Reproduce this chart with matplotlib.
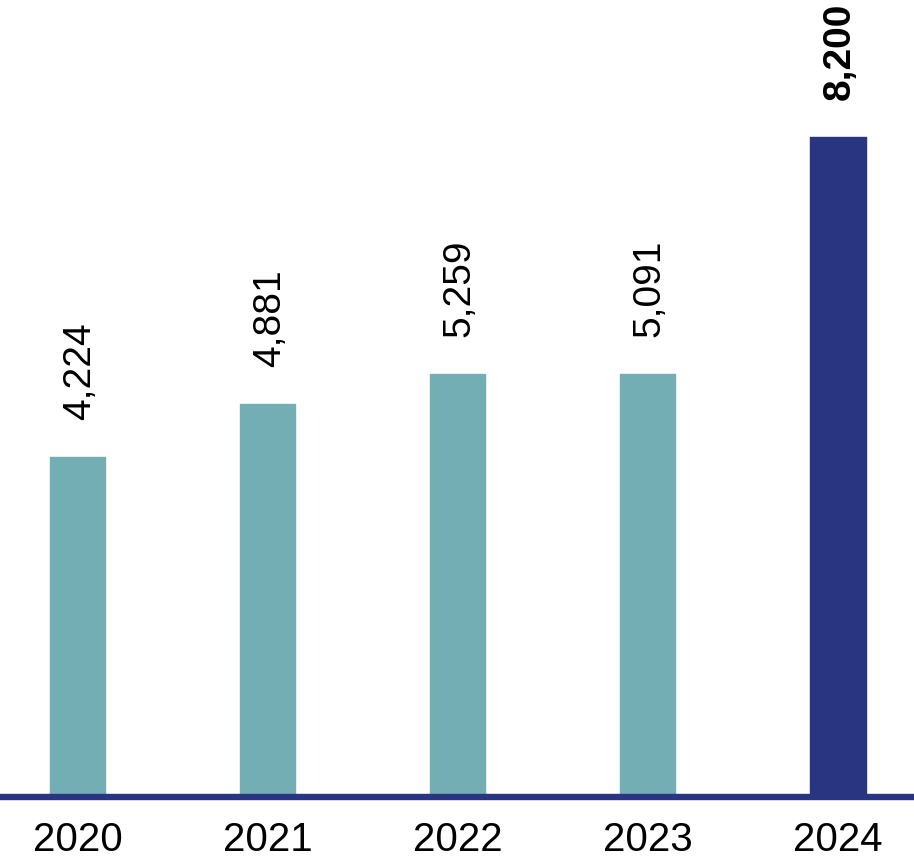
import matplotlib
matplotlib.use("Agg")
import matplotlib.pyplot as plt

years = ["2020", "2021", "2022", "2023", "2024"]
# bar heights as drawn in the reference (2023 bar is drawn level with 2022)
bar_values = [4224, 4881, 5259, 5259, 8200]
value_labels = ["4,224", "4,881", "5,259", "5,091", "8,200"]
colors = ["#74aeb5", "#74aeb5", "#74aeb5", "#74aeb5", "#2a3582"]
label_weights = ["normal", "normal", "normal", "normal", "bold"]

plt.rcParams["font.family"] = ["Liberation Sans", "DejaVu Sans"]

fig = plt.figure(figsize=(9.14, 8.6), dpi=100)
ax = fig.add_axes([0, 63 / 860, 1, 797 / 860])

x = list(range(len(years)))
bars = ax.bar(x, bar_values, width=0.29, color=colors, edgecolor=colors,
              linewidth=1.0, zorder=2)
for b in bars:
    b.set_joinstyle("round")

for xi, v, lab, w in zip(x, bar_values, value_labels, label_weights):
    ax.annotate(lab, xy=(xi, v), xytext=(1.5, 26.5), textcoords="offset points",
                rotation=90, ha="center", va="bottom", fontsize=28,
                fontweight=w, color="black")

ax.axhline(0, color="#2a3582", linewidth=4.6, zorder=3, clip_on=False)

ax.set_xlim(-0.408, 4.40)
ax.set_ylim(0, 9900)
ax.set_xticks(x)
ax.set_xticklabels(years, fontsize=29)
ax.tick_params(axis="x", length=0, pad=17)
ax.set_yticks([])
for s in ax.spines.values():
    s.set_visible(False)

fig.savefig("out.png", dpi=100)
